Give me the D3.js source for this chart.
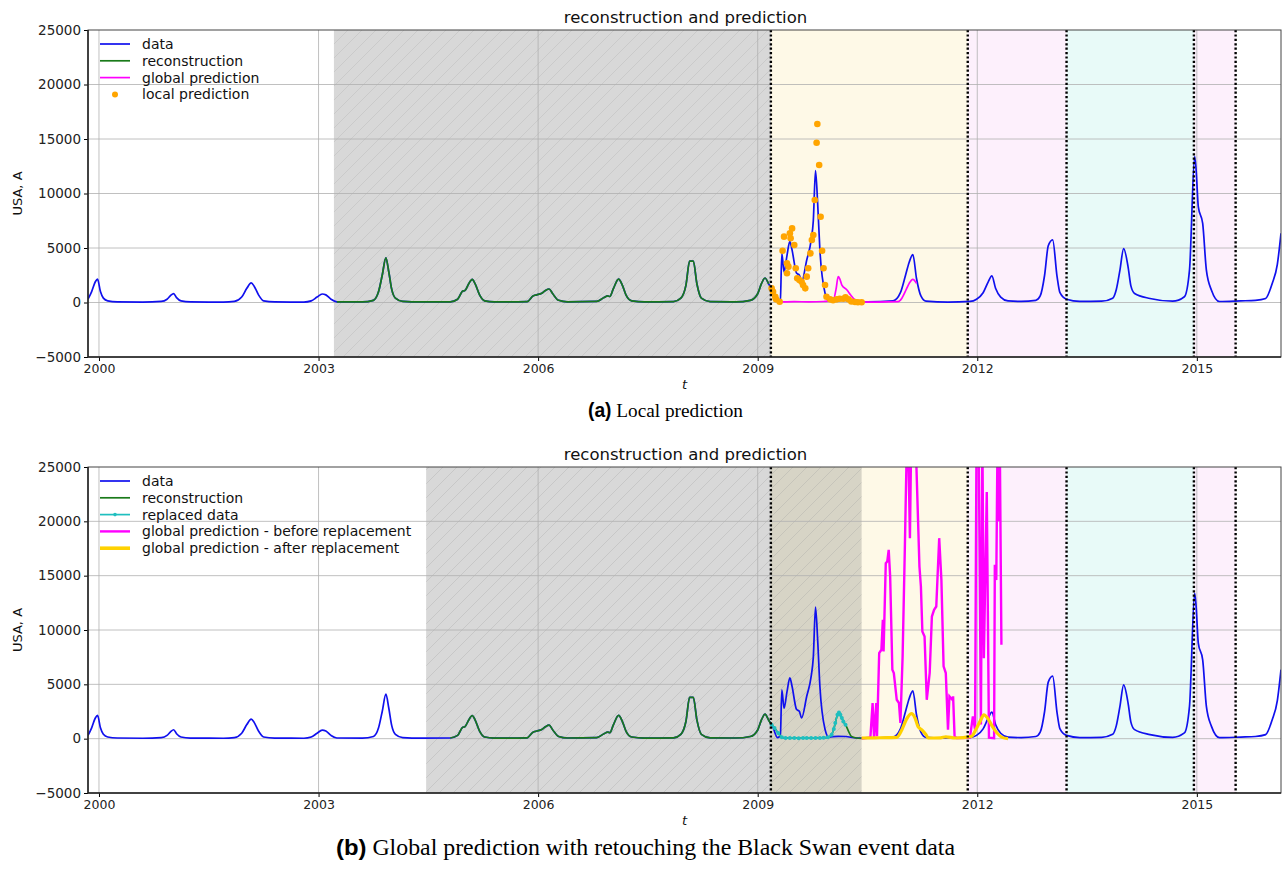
<!DOCTYPE html>
<html>
<head>
<meta charset="utf-8">
<script src="https://cdn.jsdelivr.net/npm/d3@7"></script>
<style>
  body { margin: 0; background: #fff; }
  text { font-family: "DejaVu Sans", sans-serif; }
</style>
</head>
<body>
<div id="chart"></div>
<script>
// ---- data: [year, value] ----
var dataPts = [
  [1999.85, 300], [1999.90, 1000], [1999.95, 1900], [1999.98, 2150], [2000.02, 1000], [2000.06, 400],
  [2000.12, 150], [2000.25, 60], [2000.60, 40], [2000.85, 100], [2000.93, 300], [2000.98, 650],
  [2001.02, 820], [2001.06, 450], [2001.12, 150], [2001.25, 50], [2001.70, 40], [2001.85, 100],
  [2001.95, 500], [2002.02, 1300], [2002.08, 1800], [2002.12, 1500], [2002.18, 700], [2002.25, 150],
  [2002.40, 50], [2002.80, 40], [2002.90, 150], [2002.98, 500], [2003.05, 780], [2003.10, 700],
  [2003.17, 300], [2003.25, 60], [2003.60, 50], [2003.75, 200], [2003.82, 1000], [2003.87, 2500],
  [2003.92, 4100], [2003.96, 2800], [2004.00, 1200], [2004.05, 400], [2004.15, 100], [2004.40, 50],
  [2004.80, 60], [2004.90, 300], [2004.97, 1050], [2005.00, 1100], [2005.05, 1700], [2005.10, 2130],
  [2005.14, 1700], [2005.20, 700], [2005.27, 150], [2005.40, 50], [2005.85, 80], [2005.93, 600],
  [2005.98, 700], [2006.05, 850], [2006.10, 1100], [2006.15, 1240], [2006.20, 800], [2006.28, 200],
  [2006.40, 60], [2006.80, 100], [2006.90, 450], [2006.95, 600], [2006.98, 550], [2007.03, 1300],
  [2007.10, 2150], [2007.15, 1600], [2007.20, 700], [2007.28, 150], [2007.45, 50], [2007.85, 80],
  [2007.95, 400], [2008.02, 1600], [2008.07, 3800], [2008.12, 3800], [2008.17, 1700], [2008.23, 400],
  [2008.35, 80], [2008.70, 60], [2008.90, 200], [2009.00, 800], [2009.05, 1700], [2009.10, 2250],
  [2009.15, 1700], [2009.20, 1200], [2009.27, 100], [2009.31, 300], [2009.33, 4500], [2009.36, 2800],
  [2009.40, 4300], [2009.44, 5600], [2009.47, 4800], [2009.53, 2700], [2009.57, 2500], [2009.60, 1900],
  [2009.67, 3900], [2009.73, 5700], [2009.76, 7500], [2009.79, 12100], [2009.82, 9000], [2009.85, 4800],
  [2009.92, 870], [2009.97, 150], [2010.10, 220], [2010.20, 200], [2010.35, 60], [2010.50, 50],
  [2010.85, 150], [2010.95, 900], [2011.02, 2500], [2011.07, 3700], [2011.12, 4400], [2011.17, 2200],
  [2011.23, 600], [2011.30, 120], [2011.60, 40], [2011.90, 100], [2011.99, 300], [2012.08, 900],
  [2012.15, 1900], [2012.20, 2450], [2012.25, 1300], [2012.32, 500], [2012.42, 150], [2012.60, 100],
  [2012.80, 200], [2012.86, 600], [2012.92, 2500], [2012.97, 5200], [2013.03, 5750], [2013.09, 2400],
  [2013.13, 900], [2013.22, 300], [2013.40, 100], [2013.70, 120], [2013.85, 400], [2013.90, 1200],
  [2013.95, 3000], [2014.00, 4950], [2014.06, 3300], [2014.10, 1500], [2014.15, 830], [2014.36, 370],
  [2014.67, 120], [2014.83, 530], [2014.90, 3000], [2014.97, 13400], [2014.99, 12200], [2015.02, 8800],
  [2015.08, 7250], [2015.13, 3000], [2015.20, 1130], [2015.31, 90], [2015.60, 150], [2015.80, 200],
  [2015.94, 370], [2016.03, 1750], [2016.10, 3500], [2016.15, 6350]
];

var localPred = [
  [2009.19, 1300], [2009.21, 990], [2009.24, 530], [2009.25, 290], [2009.30, 70], [2009.34, 4750],
  [2009.36, 6040], [2009.40, 3600], [2009.40, 2680], [2009.42, 3290], [2009.44, 6350], [2009.45, 5890],
  [2009.47, 6800], [2009.50, 5280], [2009.52, 3140], [2009.54, 2220], [2009.57, 2060], [2009.60, 1910],
  [2009.62, 1600], [2009.65, 1300], [2009.67, 2370], [2009.69, 3140], [2009.72, 4510], [2009.74, 5730],
  [2009.76, 6190], [2009.78, 9400], [2009.805, 14660], [2009.815, 16380], [2009.84, 12610], [2009.86, 7870],
  [2009.88, 4750], [2009.90, 3140], [2009.92, 1600], [2009.94, 530], [2009.99, 290], [2010.03, 200],
  [2010.08, 290], [2010.12, 350], [2010.17, 350], [2010.20, 480], [2010.24, 290], [2010.28, 90],
  [2010.33, 50], [2010.37, 20], [2010.42, 20]
];

var globalPredA = [
  [2009.18, 1300], [2009.22, 800], [2009.26, 300], [2009.30, 50], [2009.50, 80], [2009.70, 60],
  [2009.90, 90], [2010.03, 150], [2010.07, 1200], [2010.10, 2370], [2010.12, 2200], [2010.15, 1600],
  [2010.22, 1150], [2010.27, 690], [2010.33, 230], [2010.38, 50], [2010.60, 40], [2010.92, 80],
  [2010.97, 400], [2011.03, 1200], [2011.07, 1760], [2011.12, 2130], [2011.17, 1760]
];

var replaced = [
  [2009.19, 1290], [2009.23, 980], [2009.28, 520], [2009.33, 120], [2009.38, 60], [2009.44, 50],
  [2009.50, 70], [2009.56, 40], [2009.62, 60], [2009.67, 50], [2009.73, 70], [2009.79, 60],
  [2009.85, 50], [2009.90, 80], [2009.96, 120], [2010.01, 370], [2010.04, 900], [2010.06, 1440],
  [2010.09, 2200], [2010.11, 2400], [2010.13, 2200], [2010.15, 1900], [2010.17, 1590], [2010.20, 1290]
];
var recTail = [[2010.24, 700], [2010.28, 210], [2010.35, 60], [2010.42, 20]];

var globalBefore = [
  [2010.42, 0], [2010.54, 120], [2010.57, 3280], [2010.59, 60], [2010.62, 3280], [2010.63, 210],
  [2010.66, 7880], [2010.69, 8180], [2010.71, 10940], [2010.72, 8020], [2010.75, 16150], [2010.77, 16300],
  [2010.79, 17370], [2010.81, 14920], [2010.84, 6340], [2010.86, 6040], [2010.90, 3580], [2010.93, 3280],
  [2010.95, 1440], [2010.98, 7560], [2011.01, 17370], [2011.04, 28000], [2011.06, 26000], [2011.08, 18450],
  [2011.10, 29000], [2011.13, 31000], [2011.16, 27000], [2011.21, 15840], [2011.23, 14000], [2011.25, 9860],
  [2011.28, 9400], [2011.31, 3580], [2011.35, 6040], [2011.38, 11240], [2011.41, 11860], [2011.44, 12160],
  [2011.48, 18450], [2011.51, 14610], [2011.54, 6650], [2011.57, 6040], [2011.60, 830], [2011.62, 3890],
  [2011.66, 3580], [2011.67, 3890], [2011.69, 210], [2011.72, 60], [2011.90, 80], [2011.94, 2050],
  [2011.97, 830], [2011.99, 28000], [2012.02, 27000], [2012.05, 1300], [2012.07, 28000], [2012.09, 7400],
  [2012.13, 22700], [2012.16, 100], [2012.23, 50], [2012.24, 16000], [2012.26, 14600], [2012.28, 30000],
  [2012.29, 20000], [2012.30, 30000], [2012.31, 25500], [2012.33, 8640]
];

var globalAfter = [
  [2010.42, 60], [2010.60, 80], [2010.80, 100], [2010.90, 120], [2010.97, 830], [2011.03, 1750],
  [2011.10, 2300], [2011.15, 1900], [2011.19, 1130], [2011.25, 760], [2011.30, 370], [2011.33, 60],
  [2011.50, 80], [2011.57, 170], [2011.70, 60], [2011.92, 210], [2011.98, 830], [2012.05, 1750],
  [2012.09, 2200], [2012.14, 1900], [2012.21, 1080], [2012.27, 520], [2012.34, 120], [2012.42, 0]
];

var xTicks = [2000, 2003, 2006, 2009, 2012, 2015];
var yTicks = [-5000, 0, 5000, 10000, 15000, 20000, 25000];
var xDomain = [1999.85, 2016.15];
var yDomain = [-5000, 25000];
var dottedYears = [2009.18, 2011.87, 2013.22, 2014.96, 2015.53];
// shaded spans: [start, end, colour]
var spans = [
  [2009.18, 2011.87, "#fef9e7"],
  [2011.87, 2013.22, "#fdf0fc"],
  [2013.22, 2014.96, "#e8faf8"],
  [2014.96, 2015.53, "#fdf0fc"]
];
var recRangeA = [2003.21, 2009.18];
var recRangeB = [2004.47, 2009.18];
var gapB = [2004.47, 2010.42];

var W = 1288, H = 873;
var svg = d3.select("#chart").append("svg")
  .attr("width", W).attr("height", H);
svg.append("rect").attr("width", W).attr("height", H).attr("fill", "#fff");

var defs = svg.append("defs");
var pat = defs.append("pattern")
  .attr("id", "hatch").attr("patternUnits", "userSpaceOnUse")
  .attr("width", 14).attr("height", 14);
pat.append("rect").attr("width", 14).attr("height", 14).attr("fill", "#d8d8d8");
pat.append("path").attr("d", "M-3.5,3.5 L3.5,-3.5 M0,14 L14,0 M10.5,17.5 L17.5,10.5")
  .attr("stroke", "#c6c6c6").attr("stroke-width", 0.8);
var patB = defs.append("pattern")
  .attr("id", "hatchB").attr("patternUnits", "userSpaceOnUse")
  .attr("width", 14).attr("height", 14);
patB.append("rect").attr("width", 14).attr("height", 14).attr("fill", "#686868").attr("fill-opacity", 0.26);
patB.append("path").attr("d", "M-3.5,3.5 L3.5,-3.5 M0,14 L14,0 M10.5,17.5 L17.5,10.5")
  .attr("stroke", "#999").attr("stroke-opacity", 0.35).attr("stroke-width", 0.8);

var x = d3.scaleLinear().domain(xDomain).range([88, 1281]);

function inRange(r) {
  return dataPts.filter(function (d) { return d[0] >= r[0] && d[0] <= r[1]; });
}

function drawPanel(top, bottom, id, cfg) {
  var y = d3.scaleLinear().domain(yDomain).range([bottom, top]);
  var g = svg.append("g");

  defs.append("clipPath").attr("id", "clip" + id)
    .append("rect").attr("x", 88).attr("y", top).attr("width", 1281 - 88).attr("height", bottom - top);

  var bg = g.append("g").attr("clip-path", "url(#clip" + id + ")");
  spans.forEach(function (s) {
    bg.append("rect").attr("x", x(s[0])).attr("y", top)
      .attr("width", x(s[1]) - x(s[0])).attr("height", bottom - top).attr("fill", s[2]);
  });
  bg.append("rect").attr("x", x(cfg.hatch[0])).attr("y", top)
    .attr("width", x(cfg.hatch[1]) - x(cfg.hatch[0])).attr("height", bottom - top)
    .attr("fill", cfg.hatchFill);

  // grid
  g.append("g").selectAll("line").data(yTicks.slice(1, -1)).enter().append("line")
    .attr("x1", 88).attr("x2", 1281).attr("y1", function (d) { return y(d); }).attr("y2", function (d) { return y(d); })
    .attr("stroke", "#b0b0b0").attr("stroke-width", 0.8);
  g.append("g").selectAll("line").data(xTicks).enter().append("line")
    .attr("y1", top).attr("y2", bottom).attr("x1", function (d) { return x(d); }).attr("x2", function (d) { return x(d); })
    .attr("stroke", "#b0b0b0").attr("stroke-width", 0.8);

  var line = d3.line().x(function (d) { return x(d[0]); }).y(function (d) { return y(d[1]); });
  var smooth = d3.line().curve(d3.curveMonotoneX).x(function (d) { return x(d[0]); }).y(function (d) { return y(d[1]); });
  var plot = g.append("g").attr("clip-path", "url(#clip" + id + ")");

  plot.append("path").datum(dataPts).attr("d", smooth)
    .attr("fill", "none").attr("stroke", "#1010ee").attr("stroke-width", 1.7);
  plot.append("path").datum(cfg.rec).attr("d", smooth)
    .attr("fill", "none").attr("stroke", "#1a7a1a").attr("stroke-width", 1.7);

  cfg.extra(plot, line, smooth, y);

  // dotted separators
  plot.selectAll(".sep").data(dottedYears).enter().append("line")
    .attr("x1", function (d) { return x(d); }).attr("x2", function (d) { return x(d); })
    .attr("y1", top).attr("y2", bottom)
    .attr("stroke", "#000").attr("stroke-width", 2.4).attr("stroke-dasharray", "2.2,2.2");

  // axes
  var yAxis = d3.axisLeft(y).tickValues(yTicks).tickSize(4).tickFormat(function (d) { return d < 0 ? "\u2212" + Math.abs(d) : d; });
  var ya = g.append("g").attr("transform", "translate(88,0)").call(yAxis);
  ya.selectAll("text").attr("font-size", 13.5).attr("fill", "#222").attr("font-family", "DejaVu Sans");
  ya.select(".domain").remove();
  var xAxis = d3.axisBottom(x).tickValues(xTicks).tickSize(4).tickFormat(d3.format("d"));
  var xa = g.append("g").attr("transform", "translate(0," + bottom + ")").call(xAxis);
  xa.selectAll("text").attr("font-size", 12.5).attr("fill", "#222").attr("font-family", "DejaVu Sans");
  xa.select(".domain").remove();

  g.append("rect").attr("x", 88).attr("y", top).attr("width", 1281 - 88).attr("height", bottom - top)
    .attr("fill", "none").attr("stroke", "#444").attr("stroke-width", 1);
  g.append("line").attr("x1", 88).attr("x2", 88).attr("y1", top).attr("y2", bottom).attr("stroke", "#222").attr("stroke-width", 1.5);
  g.append("line").attr("x1", 88).attr("x2", 1281).attr("y1", bottom).attr("y2", bottom).attr("stroke", "#222").attr("stroke-width", 1.5);

  g.append("text").attr("x", 685.5).attr("y", top - 7).attr("text-anchor", "middle")
    .attr("font-size", 16.5).attr("fill", "#111").text("reconstruction and prediction");
  g.append("text").attr("transform", "translate(22," + (top + bottom) / 2 + ") rotate(-90)")
    .attr("text-anchor", "middle").attr("font-size", 13).attr("fill", "#111").text("USA, A");
  g.append("text").attr("x", 684.5).attr("y", bottom + 32).attr("text-anchor", "middle")
    .attr("font-size", 13).attr("font-style", "italic").attr("fill", "#111").text("t");

  // legend
  var lg = g.append("g").attr("transform", "translate(100," + (top + 14) + ")");
  cfg.legend.forEach(function (it, i) {
    var row = lg.append("g").attr("transform", "translate(0," + (i * 16.8) + ")");
    if (it.dot) {
      row.append("circle").attr("cx", 15).attr("cy", 0).attr("r", 3).attr("fill", it.color);
    } else {
      row.append("line").attr("x1", 0).attr("x2", 30).attr("y1", 0).attr("y2", 0)
        .attr("stroke", it.color).attr("stroke-width", it.w || 1.7);
      if (it.marker) row.append("circle").attr("cx", 15).attr("cy", 0).attr("r", 1.8).attr("fill", it.color);
    }
    row.append("text").attr("x", 42).attr("y", 5).attr("font-size", 14).attr("fill", "#111").text(it.label);
  });
}

drawPanel(30, 357, "A", {
  hatch: recRangeA,
  hatchFill: "url(#hatch)",
  rec: inRange(recRangeA),
  extra: function (plot, line, smooth, y) {
    plot.append("path").datum(globalPredA).attr("d", smooth)
      .attr("fill", "none").attr("stroke", "#ff00ff").attr("stroke-width", 1.7);
    plot.selectAll(".lp").data(localPred).enter().append("circle")
      .attr("cx", function (d) { return x(d[0]); }).attr("cy", function (d) { return y(d[1]); })
      .attr("r", 3.3).attr("fill", "#ffa500");
  },
  legend: [
    { label: "data", color: "#1010ee" },
    { label: "reconstruction", color: "#1a7a1a" },
    { label: "global prediction", color: "#ff00ff" },
    { label: "local prediction", color: "#ffa500", dot: true }
  ]
});

drawPanel(467, 793, "B", {
  hatch: gapB,
  hatchFill: "url(#hatchB)",
  rec: inRange(recRangeB).concat(replaced, recTail),
  extra: function (plot, line, smooth, y) {
    plot.append("path").datum(replaced).attr("d", smooth)
      .attr("fill", "none").attr("stroke", "#1fbfbf").attr("stroke-width", 1.7);
    plot.selectAll(".rp").data(replaced).enter().append("circle")
      .attr("cx", function (d) { return x(d[0]); }).attr("cy", function (d) { return y(d[1]); })
      .attr("r", 2).attr("fill", "#1fbfbf");
    plot.append("path").datum(globalBefore).attr("d", line)
      .attr("fill", "none").attr("stroke", "#ff00ff").attr("stroke-width", 2.4);
    plot.append("path").datum(globalAfter).attr("d", smooth)
      .attr("fill", "none").attr("stroke", "#ffd200").attr("stroke-width", 3.2);
  },
  legend: [
    { label: "data", color: "#1010ee" },
    { label: "reconstruction", color: "#1a7a1a" },
    { label: "replaced data", color: "#1fbfbf", marker: true },
    { label: "global prediction - before replacement", color: "#ff00ff", w: 2.4 },
    { label: "global prediction - after replacement", color: "#ffd200", w: 3.6 }
  ]
});

// captions
var capA = svg.append("text").attr("x", 665.5).attr("y", 417).attr("text-anchor", "middle")
  .attr("font-size", 19.5).attr("textLength", 155).attr("lengthAdjust", "spacingAndGlyphs");
capA.append("tspan").attr("font-family", "Liberation Sans, Arial, sans-serif").attr("font-weight", "bold").text("(a)");
capA.append("tspan").attr("font-family", "Liberation Serif, Times New Roman, serif").text(" Local prediction");
var capB = svg.append("text").attr("x", 645.5).attr("y", 855).attr("text-anchor", "middle")
  .attr("font-size", 22.5).attr("textLength", 619).attr("lengthAdjust", "spacingAndGlyphs");
capB.append("tspan").attr("font-family", "Liberation Sans, Arial, sans-serif").attr("font-weight", "bold").text("(b)");
capB.append("tspan").attr("font-family", "Liberation Serif, Times New Roman, serif").text(" Global prediction with retouching the Black Swan event data");
</script>
</body>
</html>
